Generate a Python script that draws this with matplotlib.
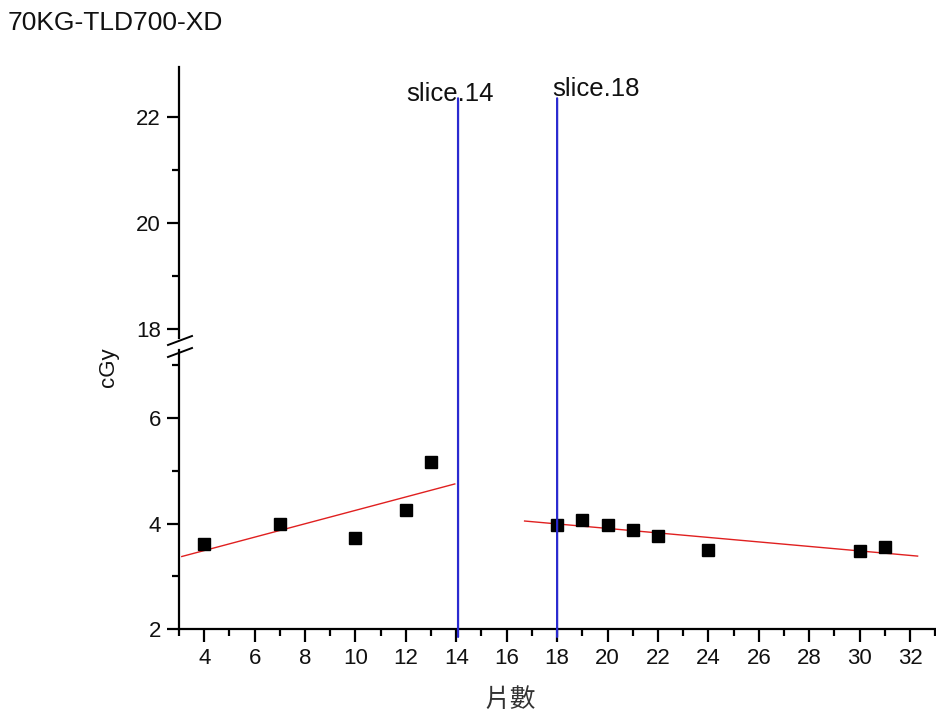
import numpy as np
import matplotlib
matplotlib.use("Agg")
import matplotlib.pyplot as plt
from matplotlib.lines import Line2D
from matplotlib.patches import ConnectionPatch
from matplotlib.ticker import MultipleLocator

plt.rcParams['font.family'] = ['Liberation Sans', 'Noto Sans CJK TC', 'DejaVu Sans']

# Data
x_left = [4, 7, 10, 12, 13]
y_left = [3.61, 3.99, 3.72, 4.26, 5.16]
x_right = [18, 19, 20, 21, 22, 24, 30, 31]
y_right = [3.98, 4.07, 3.97, 3.88, 3.77, 3.50, 3.47, 3.55]
fit_left_range = [3.11, 13.94]
fit_right_range = [16.71, 32.3]
slice_x = [14.07, 18.0]
slice_labels = ["slice.14", "slice.18"]
slice_top = 22.35
title = "70KG-TLD700-XD"
xlabel = "片數"
ylabel = "cGy"

W, H = 936, 717
fig = plt.figure(figsize=(W / 100, H / 100), dpi=100)

left = 179 / W
width = 1.0 - left
low_b = 1 - 629 / H
low_t = 1 - 350 / H
up_b = 1 - 338 / H
up_t = 1 - 67 / H

ax_lo = fig.add_axes([left, low_b, width, low_t - low_b])
ax_up = fig.add_axes([left, up_b, width, up_t - up_b], sharex=ax_lo)

xlim = (3, 33.03)
ax_lo.set_xlim(*xlim)
ax_lo.set_ylim(2, 7.29)
ax_up.set_ylim(17.83, 22.94)

axis_lw = 1.6
tick_fs = 16
for ax in (ax_lo, ax_up):
    ax.spines['top'].set_visible(False)
    ax.spines['right'].set_visible(False)
    ax.spines['left'].set_linewidth(axis_lw)
    ax.spines['bottom'].set_linewidth(axis_lw)
    ax.yaxis.set_major_locator(MultipleLocator(2))
    ax.yaxis.set_minor_locator(MultipleLocator(1))
    ax.tick_params(axis='y', which='major', direction='out', length=9, width=1.6,
                   labelsize=tick_fs, pad=4, labelcolor='#111')
    ax.tick_params(axis='y', which='minor', direction='out', length=5, width=1.6)
    ax.patch.set_alpha(0)

ax_up.spines['bottom'].set_visible(False)
ax_up.tick_params(axis='x', which='both', bottom=False, labelbottom=False)

ax_lo.xaxis.set_major_locator(MultipleLocator(2))
ax_lo.xaxis.set_minor_locator(MultipleLocator(1))
ax_lo.set_xticks(np.arange(4, 33, 2))
ax_lo.tick_params(axis='x', which='major', direction='out', length=9, width=1.6,
                  labelsize=tick_fs, pad=5, labelcolor='#111')
ax_lo.tick_params(axis='x', which='minor', direction='out', length=5, width=1.6)

# scatter points
ax_lo.plot(x_left, y_left, 's', color='black', ms=8.5, zorder=5)
ax_lo.plot(x_right, y_right, 's', color='black', ms=8.5, zorder=5)

# linear fits
for xs, ys, rng in ((x_left, y_left, fit_left_range), (x_right, y_right, fit_right_range)):
    k, b = np.polyfit(xs, ys, 1)
    xx = np.array(rng)
    ax_lo.plot(xx, k * xx + b, color='#e02020', lw=1.0, zorder=4)

# slice vertical lines spanning the break
for sx in slice_x:
    con = ConnectionPatch(xyA=(sx, slice_top), coordsA=ax_up.transData,
                          xyB=(sx, 1.85), coordsB=ax_lo.transData,
                          color='#2a2ad0', lw=1.6, zorder=6)
    fig.add_artist(con)

ax_up.text(12.03, 22.30, slice_labels[0], fontsize=18.5, ha='left', va='baseline', color='#111')
ax_up.text(17.82, 22.40, slice_labels[1], fontsize=18.5, ha='left', va='baseline', color='#111')

# break marks
for (x0, y0, x1, y1) in ((168, 345, 192, 336), (168, 357, 192, 348)):
    fig.add_artist(Line2D([x0 / W, x1 / W], [1 - y0 / H, 1 - y1 / H],
                          color='black', lw=1.4, transform=fig.transFigure))

# labels
fig.text(8 / W, 1 - 30 / H, title, fontsize=19, ha='left', va='baseline', color='#111')
fig.text(510 / W, 1 - 700 / H, xlabel, fontsize=18.5, ha='center', va='center', color='#333',
         family=['Noto Sans CJK TC', 'DejaVu Sans'])
fig.text(108 / W, 1 - 367 / H, ylabel, fontsize=16, ha='center', va='center', rotation=90, color='#111')

fig.savefig("out.png", dpi=100)
